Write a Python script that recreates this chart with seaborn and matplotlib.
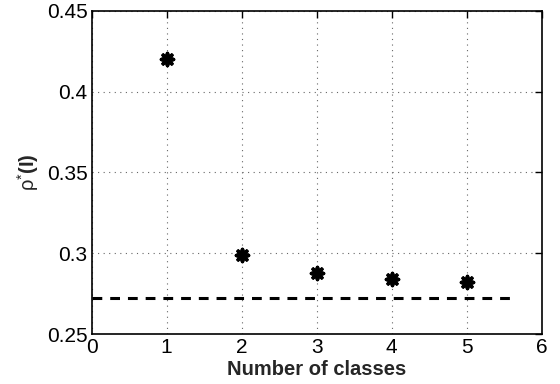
import matplotlib
matplotlib.use("Agg")
import matplotlib.pyplot as plt
import seaborn as sns
import pandas as pd

classes = [1, 2, 3, 4, 5]
rho_values = [0.420, 0.299, 0.2877, 0.2840, 0.2825]
baseline_x = [0, 5.6]
baseline_y = [0.2725, 0.2725]
xticks = [0, 1, 2, 3, 4, 5, 6]
yticks = [0.25, 0.3, 0.35, 0.4, 0.45]
ytick_labels = ["0.25", "0.3", "0.35", "0.4", "0.45"]

sns.set_theme(style="white")
plt.rcParams['font.family'] = ['Liberation Sans', 'DejaVu Sans']
plt.rcParams['mathtext.fontset'] = 'custom'
plt.rcParams['mathtext.rm'] = 'Liberation Sans'
plt.rcParams['mathtext.bf'] = 'Liberation Sans:bold'

fig = plt.figure(figsize=(5.6, 3.84), dpi=100)
ax = fig.add_axes([0.1637, 0.1302, 0.8033, 0.8412])

df = pd.DataFrame({"classes": classes, "rho": rho_values})
dfl = pd.DataFrame({"x": baseline_x, "y": baseline_y})

sns.lineplot(data=dfl, x="x", y="y", ax=ax, color="black", linewidth=2.2,
             linestyle=(0, (3.2, 2.6)), zorder=3)
sns.scatterplot(data=df, x="classes", y="rho", ax=ax, marker=(8, 2, 0),
                s=75, color="black", edgecolor="black", linewidth=2.6, zorder=4)

ax.set_xlim(0, 6)
ax.set_ylim(0.25, 0.45)
ax.set_xticks(xticks)
ax.set_yticks(yticks)
ax.set_yticklabels(ytick_labels)
ax.grid(True, linestyle=(0, (1, 4)), color="#666666", linewidth=0.8)
ax.tick_params(direction="in", length=5, width=1, top=True, right=True,
               labelsize=15, colors="black", pad=3)
for sp in ax.spines.values():
    sp.set_color("black")
    sp.set_linewidth(1.2)
ax.set_xlabel("Number of classes", fontsize=14.5, fontweight="bold", labelpad=2)
ax.set_ylabel(r"ρ$^{*}$$\mathbf{(I)}$", fontsize=14.5, labelpad=4)

fig.savefig("out.png", dpi=100)
